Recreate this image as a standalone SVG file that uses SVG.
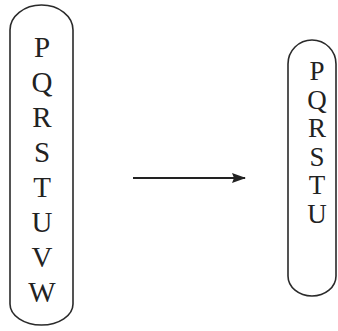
<svg xmlns="http://www.w3.org/2000/svg" width="338" height="331" viewBox="0 0 338 331">
<style>
.box{fill:none;stroke:#2a2a2a;stroke-width:1.6}
.t{font-family:"Liberation Serif",serif;fill:#222;text-anchor:middle}
.l{font-size:29px}
.r{font-size:27px}
.arr{stroke:#222;stroke-width:1.8;fill:none}
</style>
<defs>
<marker id="ah" markerWidth="14" markerHeight="10" refX="13" refY="5" orient="auto" markerUnits="userSpaceOnUse" viewBox="0 0 14 10">
<path d="M0,0 L14,5 L0,10 L2,5 Z" fill="#222"/>
</marker>
</defs>
<g id="left">
<path class="box" d="M10,30 A31.5,25 0 0 1 73,30 L73,304 A31.5,21 0 0 1 10,304 Z"/>
<text class="t l" x="42" y="57">P</text>
<text class="t l" x="42" y="92">Q</text>
<text class="t l" x="42" y="127">R</text>
<text class="t l" x="42" y="162">S</text>
<text class="t l" x="42" y="197">T</text>
<text class="t l" x="42" y="232">U</text>
<text class="t l" x="42" y="267">V</text>
<text class="t l" x="42" y="302">W</text>
</g>
<g id="right">
<path class="box" d="M288,64 A24,24 0 0 1 336,64 L336,276 A24,20 0 0 1 288,276 Z"/>
<text class="t r" x="317" y="80">P</text>
<text class="t r" x="317" y="108.5">Q</text>
<text class="t r" x="317" y="137">R</text>
<text class="t r" x="317" y="165.5">S</text>
<text class="t r" x="317" y="194">T</text>
<text class="t r" x="317" y="222.5">U</text>
</g>
<g id="connectors">
<line class="arr" x1="133" y1="178" x2="245" y2="178" marker-end="url(#ah)"/>
</g>
</svg>
